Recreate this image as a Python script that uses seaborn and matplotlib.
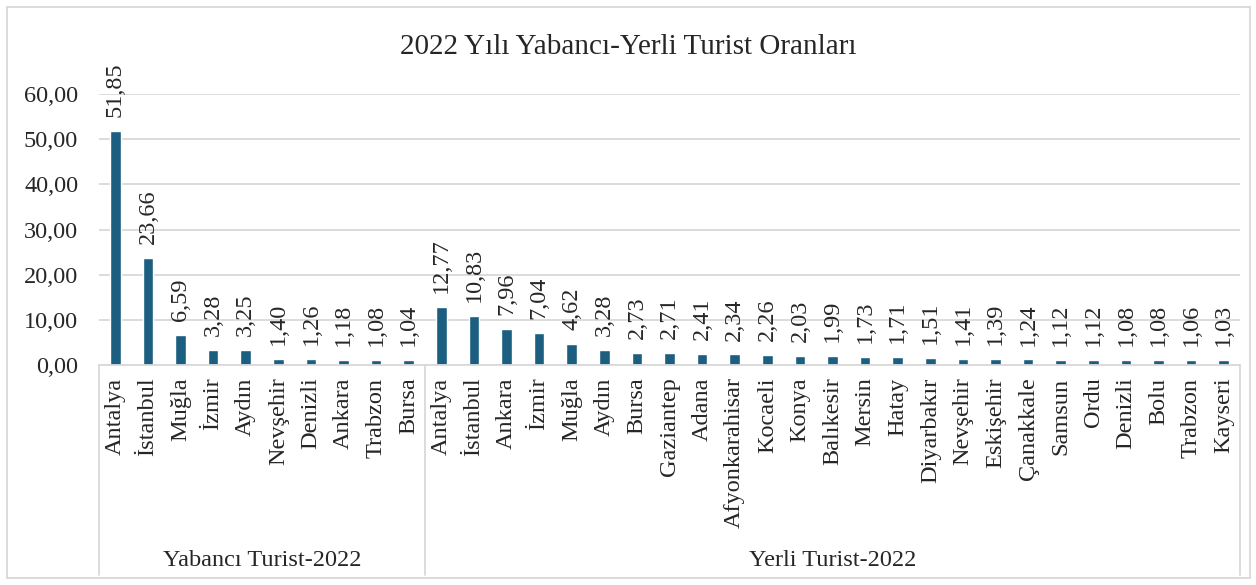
import numpy as np
import pandas as pd
import matplotlib
matplotlib.use('Agg')
import matplotlib.pyplot as plt
import matplotlib.transforms as mtransforms
from matplotlib.patches import Rectangle
import seaborn as sns

# ── Data ───────────────────────────────────────────────────
groups = ["Yabancı Turist-2022", "Yerli Turist-2022"]

foreign_cities = ["Antalya", "İstanbul", "Muğla", "İzmir", "Aydın",
                  "Nevşehir", "Denizli", "Ankara", "Trabzon", "Bursa"]
foreign_values = [51.85, 23.66, 6.59, 3.28, 3.25, 1.40, 1.26, 1.18, 1.08, 1.04]

local_cities = ["Antalya", "İstanbul", "Ankara", "İzmir", "Muğla", "Aydın",
                "Bursa", "Gaziantep", "Adana", "Afyonkarahisar", "Kocaeli",
                "Konya", "Balıkesir", "Mersin", "Hatay", "Diyarbakır",
                "Nevşehir", "Eskişehir", "Çanakkale", "Samsun", "Ordu",
                "Denizli", "Bolu", "Trabzon", "Kayseri"]
local_values = [12.77, 10.83, 7.96, 7.04, 4.62, 3.28, 2.73, 2.71, 2.41, 2.34,
                2.26, 2.03, 1.99, 1.73, 1.71, 1.51, 1.41, 1.39, 1.24, 1.12,
                1.12, 1.08, 1.08, 1.06, 1.03]

yticks = [0, 10, 20, 30, 40, 50, 60]

df = pd.DataFrame({
    "group": [groups[0]] * len(foreign_cities) + [groups[1]] * len(local_cities),
    "city": foreign_cities + local_cities,
    "value": foreign_values + local_values,
})
df["key"] = df["group"] + "|" + df["city"]

# ── Style ──────────────────────────────────────────────────
sns.set_theme(style="white")
plt.rcParams['font.family'] = ['Liberation Serif', 'DejaVu Serif']

BAR = "#1B5E80"
GRID = "#D9D9D9"
FS = 17.5

fig = plt.figure(figsize=(12.56, 5.85), dpi=100)
ax = fig.add_axes([99 / 1256, 1 - 365 / 585, 1141 / 1256, 271 / 585])

sns.barplot(data=df, x="key", y="value", order=list(df["key"]),
            color=BAR, width=0.32, saturation=1, ax=ax)

ax.set_xlim(-0.5, len(df) - 0.5)
ax.set_ylim(0, 60)
ax.set_yticks(yticks)
ax.set_yticklabels([f"{v:.2f}".replace(".", ",") for v in yticks], fontsize=FS)
ax.yaxis.grid(True, color=GRID, linewidth=1.3)
ax.set_axisbelow(True)
for s in ["left", "right", "top"]:
    ax.spines[s].set_visible(False)
ax.spines["bottom"].set_color(GRID)
ax.spines["bottom"].set_linewidth(1.3)
ax.tick_params(axis="both", length=0)
ax.tick_params(axis="y", pad=15)

ax.set_xticks(range(len(df)))
ax.set_xticklabels(df["city"], rotation=90, fontsize=FS)
ax.tick_params(axis="x", pad=9)
ax.set_xlabel("")
ax.set_ylabel("")

# value labels
for i, v in enumerate(df["value"]):
    ax.annotate(f"{v:.2f}".replace(".", ","), (i, v), xytext=(0, 10),
                textcoords="offset points", rotation=90, ha="center",
                va="bottom", fontsize=FS, annotation_clip=False)

# group separators and labels
trans = mtransforms.blended_transform_factory(ax.transData, ax.transAxes)
n1 = len(foreign_cities)
for xv in [-0.5, n1 - 0.5, len(df) - 0.5]:
    ax.plot([xv, xv], [0, -0.775], transform=trans, color=GRID,
            linewidth=1.3, clip_on=False)
ax.text((n1 - 1) / 2, -0.72, groups[0], transform=trans, ha="center",
        va="center", fontsize=FS)
ax.text((n1 + len(df) - 1) / 2, -0.72, groups[1], transform=trans,
        ha="center", va="center", fontsize=FS)

fig.text(0.5, 1 - 47 / 585, "2022 Yılı Yabancı-Yerli Turist Oranları",
         ha="center", va="center", fontsize=21)

fig.patches.append(Rectangle((7 / 1256, 7 / 585), 1243 / 1256, 571 / 585,
                             transform=fig.transFigure, fill=False,
                             edgecolor=GRID, linewidth=1.3))

fig.savefig("out.png", dpi=100)
